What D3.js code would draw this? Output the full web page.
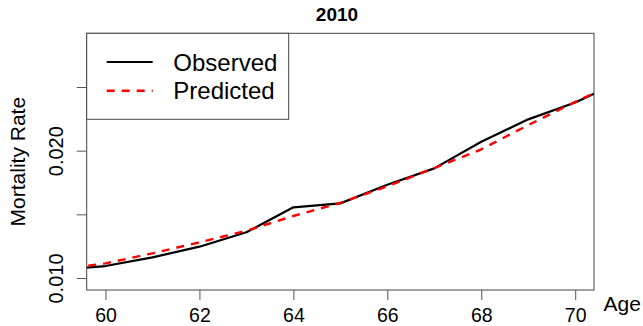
<!DOCTYPE html>
<html>
<head>
<meta charset="utf-8">
<script src="https://cdn.jsdelivr.net/npm/d3@7"></script>
<style>
  html, body { margin: 0; padding: 0; background: #fff; }
  svg { display: block; font-family: "Liberation Sans", Arial, sans-serif; }
</style>
</head>
<body>
<svg id="chart" width="643" height="326"></svg>
<script>
// Ages and mortality rates for 2010 (values past the axis limits are clipped by the frame)
const ages      = [59, 60, 61, 62, 63, 64, 65, 66, 67, 68, 69, 70, 71];
const observed  = [0.01062, 0.01094, 0.01162, 0.01246, 0.01359, 0.01555, 0.01586, 0.01732, 0.01861, 0.0207, 0.02246, 0.02378, 0.0255];
const predicted = [0.01063, 0.01115, 0.01194, 0.0128, 0.01371, 0.01487, 0.0159, 0.0172, 0.01863, 0.0201, 0.02201, 0.02383, 0.02555];

const xTickValues = [60, 62, 64, 66, 68, 70];
const xTickLabels = ["60", "62", "64", "66", "68", "70"];
const yTickValues = [0.010, 0.015, 0.020, 0.025];
const yTickLabels = ["0.010", "", "0.020", ""];

const titleText = "2010";
const xLabel = "Age";
const yLabel = "Mortality Rate";
const seriesNames = ["Observed", "Predicted"];

const svg = d3.select("#chart");
const plot = { left: 86.7, right: 594, top: 33.3, bottom: 290 };

const x = d3.scaleLinear().domain([59.6, 70.4]).range([plot.left, plot.right]);
const y = d3.scaleLinear().domain([0.009058, 0.029217]).range([plot.bottom, plot.top]);

svg.append("defs").append("clipPath").attr("id", "plotClip")
  .append("rect")
  .attr("x", plot.left).attr("y", plot.top)
  .attr("width", plot.right - plot.left).attr("height", plot.bottom - plot.top);

// Axes
const xAxis = d3.axisBottom(x)
  .tickValues(xTickValues)
  .tickFormat((d, i) => xTickLabels[i])
  .tickSize(10).tickPadding(4);
const gx = svg.append("g").attr("transform", `translate(0,${plot.bottom})`).call(xAxis);
gx.select(".domain").remove();
gx.selectAll(".tick line").attr("stroke", "#555").attr("stroke-width", 1);
gx.selectAll(".tick text")
  .attr("font-size", 19.5).attr("fill", "#000")
  .attr("dy", null).attr("y", 32.2);

const yAxis = d3.axisLeft(y)
  .tickValues(yTickValues)
  .tickFormat((d, i) => yTickLabels[i])
  .tickSize(10);
const gy = svg.append("g").attr("transform", `translate(${plot.left},0)`).call(yAxis);
gy.select(".domain").remove();
gy.selectAll(".tick line").attr("stroke", "#555").attr("stroke-width", 1);
gy.selectAll(".tick text")
  .attr("font-size", 20).attr("fill", "#000")
  .attr("x", null).attr("dy", null)
  .attr("text-anchor", "middle")
  .attr("transform", "translate(-23.5,0) rotate(-90)");

// Lines
const line = d3.line().x((d, i) => x(ages[i])).y(d => y(d));
const lines = svg.append("g").attr("clip-path", "url(#plotClip)");
lines.append("path")
  .datum(observed)
  .attr("d", line)
  .attr("fill", "none").attr("stroke", "#000").attr("stroke-width", 2.2)
  .attr("stroke-linejoin", "round");
lines.append("path")
  .datum(predicted)
  .attr("d", line)
  .attr("fill", "none").attr("stroke", "#ff0000").attr("stroke-width", 2.4)
  .attr("stroke-dasharray", "8,7");

// Frame
svg.append("rect")
  .attr("x", plot.left).attr("y", plot.top)
  .attr("width", plot.right - plot.left).attr("height", plot.bottom - plot.top)
  .attr("fill", "none").attr("stroke", "#444").attr("stroke-width", 1);

// Title and axis labels
svg.append("text").attr("x", 337).attr("y", 21)
  .attr("text-anchor", "middle").attr("font-size", 19).attr("font-weight", "bold")
  .text(titleText);
svg.append("text").attr("x", 603.5).attr("y", 310.5)
  .attr("font-size", 21).text(xLabel);
svg.append("text")
  .attr("transform", `translate(24.5,${(plot.top + plot.bottom) / 2}) rotate(-90)`)
  .attr("text-anchor", "middle").attr("font-size", 21).text(yLabel);

// Legend
const legend = svg.append("g");
legend.append("rect")
  .attr("x", plot.left).attr("y", plot.top)
  .attr("width", 288.7 - plot.left).attr("height", 119.3 - plot.top)
  .attr("fill", "#fff").attr("stroke", "#444").attr("stroke-width", 1);
const legendRows = [
  { name: seriesNames[0], color: "#000", dash: null, width: 2.2, yy: 62 },
  { name: seriesNames[1], color: "#ff0000", dash: "8,7", width: 2.4, yy: 90.7 }
];
legendRows.forEach(r => {
  legend.append("line")
    .attr("x1", 106.7).attr("x2", 152.7).attr("y1", r.yy).attr("y2", r.yy)
    .attr("stroke", r.color).attr("stroke-width", r.width)
    .attr("stroke-dasharray", r.dash);
  legend.append("text")
    .attr("x", 173.3).attr("y", r.yy + 8.6)
    .attr("font-size", 24).text(r.name);
});
</script>
</body>
</html>
